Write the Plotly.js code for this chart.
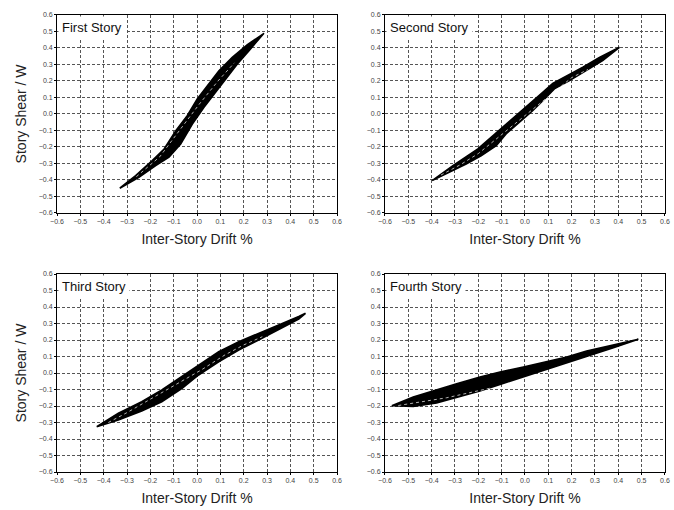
<!DOCTYPE html>
<html><head><meta charset="utf-8">
<script src="https://cdn.plot.ly/plotly-3.0.1.min.js"></script>
<style>html,body{margin:0;padding:0;background:#fff}#chart{width:674px;height:510px}</style>
</head><body><div id="chart"></div>
<script>
// ---- data ----
const storyNames = ['First Story', 'Second Story', 'Third Story', 'Fourth Story'];
const tickValues = [-0.6, -0.5, -0.4, -0.3, -0.2, -0.1, 0.0, 0.1, 0.2, 0.3, 0.4, 0.5, 0.6];
const xAxisTitle = 'Inter-Story Drift %';
const yAxisTitle = 'Story Shear / W';

// First story: upper (unloading) branch and lower (loading) branch
const s1UpX = [-0.331, -0.263, -0.192, -0.141, -0.091, -0.042, 0.001, 0.044, 0.094, 0.151, 0.216, 0.287];
const s1UpY = [-0.450, -0.374, -0.283, -0.212, -0.101, -0.010, 0.091, 0.172, 0.262, 0.343, 0.420, 0.489];
const s1LoX = [-0.331, -0.249, -0.177, -0.120, -0.070, -0.020, 0.030, 0.080, 0.130, 0.173, 0.223, 0.287];
const s1LoY = [-0.450, -0.384, -0.313, -0.262, -0.182, -0.061, 0.041, 0.132, 0.222, 0.303, 0.384, 0.489];
const s1InX = [-0.26, -0.16, -0.07, 0.01, 0.09, 0.16];
const s1InY = [-0.38, -0.26, -0.09, 0.06, 0.20, 0.31];

// Second story
const s2UpX = [-0.398, -0.309, -0.202, -0.095, -0.038, 0.019, 0.076, 0.119, 0.177, 0.248, 0.319, 0.405];
const s2UpY = [-0.404, -0.313, -0.212, -0.081, -0.010, 0.061, 0.131, 0.186, 0.232, 0.283, 0.343, 0.404];
const s2LoX = [-0.398, -0.309, -0.252, -0.188, -0.123, -0.081, -0.024, 0.033, 0.084, 0.126, 0.191, 0.262, 0.333, 0.405];
const s2LoY = [-0.404, -0.343, -0.303, -0.253, -0.192, -0.121, -0.050, 0.020, 0.091, 0.152, 0.202, 0.262, 0.323, 0.404];
const s2InX = [-0.36, -0.28, -0.20, 0.20, 0.27];
const s2InY = [-0.37, -0.31, -0.24, 0.22, 0.27];

// Third story
const s3UpX = [-0.430, -0.337, -0.237, -0.151, -0.064, 0.007, 0.093, 0.179, 0.264, 0.350, 0.436, 0.465];
const s3UpY = [-0.325, -0.244, -0.174, -0.103, -0.022, 0.048, 0.129, 0.190, 0.240, 0.291, 0.342, 0.362];
const s3LoX = [-0.430, -0.337, -0.237, -0.151, -0.064, 0.007, 0.093, 0.179, 0.264, 0.350, 0.436, 0.465];
const s3LoY = [-0.325, -0.285, -0.230, -0.174, -0.093, -0.012, 0.068, 0.139, 0.200, 0.261, 0.327, 0.362];
const s3InX = [-0.38, -0.30, 0.02, 0.12, 0.20, 0.28];
const s3InY = [-0.30, -0.24, 0.02, 0.11, 0.17, 0.22];

// Fourth story
const s4UpX = [-0.571, -0.479, -0.379, -0.293, -0.193, -0.107, -0.007, 0.093, 0.179, 0.264, 0.379, 0.486];
const s4UpY = [-0.198, -0.145, -0.101, -0.065, -0.024, 0.006, 0.036, 0.067, 0.097, 0.133, 0.168, 0.204];
const s4LoX = [-0.571, -0.514, -0.479, -0.379, -0.293, -0.193, -0.107, -0.007, 0.093, 0.179, 0.264, 0.379, 0.486];
const s4LoY = [-0.198, -0.200, -0.202, -0.182, -0.150, -0.109, -0.069, -0.024, 0.020, 0.061, 0.101, 0.153, 0.204];
const s4InX = [-0.543, -0.336, -0.150];
const s4InY = [-0.197, -0.150, -0.092];

const stories = [
  {upX: s1UpX, upY: s1UpY, loX: s1LoX, loY: s1LoY, inX: s1InX, inY: s1InY},
  {upX: s2UpX, upY: s2UpY, loX: s2LoX, loY: s2LoY, inX: s2InX, inY: s2InY},
  {upX: s3UpX, upY: s3UpY, loX: s3LoX, loY: s3LoY, inX: s3InX, inY: s3InY},
  {upX: s4UpX, upY: s4UpY, loX: s4LoX, loY: s4LoY, inX: s4InX, inY: s4InY}
];

// ---- figure ----
const FONT = 'Liberation Sans, Arial, sans-serif';
const traces = [];
stories.forEach((s, i) => {
  const xa = i === 0 ? 'x' : 'x' + (i + 1);
  const ya = i === 0 ? 'y' : 'y' + (i + 1);
  traces.push({
    type: 'scatter', mode: 'lines', xaxis: xa, yaxis: ya,
    x: s.loX.concat(s.upX.slice().reverse()),
    y: s.loY.concat(s.upY.slice().reverse()),
    fill: 'toself', fillcolor: '#000', line: {color: '#000', width: 1.6},
    hoverinfo: 'skip', showlegend: false
  });
  traces.push({
    type: 'scatter', mode: 'lines', xaxis: xa, yaxis: ya,
    x: s.inX, y: s.inY,
    line: {color: '#fff', width: 0.7, dash: '3px,3px'},
    hoverinfo: 'skip', showlegend: false
  });
});

const xDomains = [[0.0846, 0.5], [0.5712, 0.9866], [0.0846, 0.5], [0.5712, 0.9866]];
const yDomains = [[0.5824, 0.9706], [0.5824, 0.9706], [0.0745, 0.4627], [0.0745, 0.4627]];

function axisBase() {
  return {
    range: [-0.6, 0.6], tickvals: tickValues, tickformat: '.1f',
    showgrid: true, gridcolor: '#555', gridwidth: 1, griddash: '3px,2px',
    zeroline: false, showline: true, linecolor: '#000', linewidth: 1, mirror: true,
    ticks: 'outside', ticklen: 2, tickcolor: '#000',
    tickfont: {family: FONT, size: 7, color: '#444'},
    fixedrange: true, automargin: false
  };
}

const layout = {
  width: 674, height: 510,
  margin: {l: 0, r: 0, t: 0, b: 0},
  paper_bgcolor: '#fff', plot_bgcolor: '#fff',
  showlegend: false,
  annotations: []
};

for (let i = 0; i < 4; i++) {
  const xk = i === 0 ? 'xaxis' : 'xaxis' + (i + 1);
  const yk = i === 0 ? 'yaxis' : 'yaxis' + (i + 1);
  const ya = i === 0 ? 'y' : 'y' + (i + 1);
  const xa = i === 0 ? 'x' : 'x' + (i + 1);
  layout[xk] = Object.assign(axisBase(), {
    domain: xDomains[i], anchor: ya,
    title: {text: xAxisTitle, font: {family: FONT, size: 14, color: '#222'}, standoff: 9}
  });
  layout[yk] = Object.assign(axisBase(), {
    domain: yDomains[i], anchor: xa
  });
  if (i % 2 === 0) {
    layout[yk].title = {text: yAxisTitle, font: {family: FONT, size: 14, color: '#222'}, standoff: 8};
  }
  layout.annotations.push({
    text: storyNames[i], xref: xa + ' domain', yref: ya + ' domain',
    x: 0, y: 1, xanchor: 'left', yanchor: 'top', xshift: 1, yshift: -1,
    showarrow: false, bgcolor: '#fff', borderpad: 3,
    font: {family: FONT, size: 13, color: '#111'}
  });
}

Plotly.newPlot('chart', traces, layout, {staticPlot: true, displayModeBar: false});
</script>
</body></html>
